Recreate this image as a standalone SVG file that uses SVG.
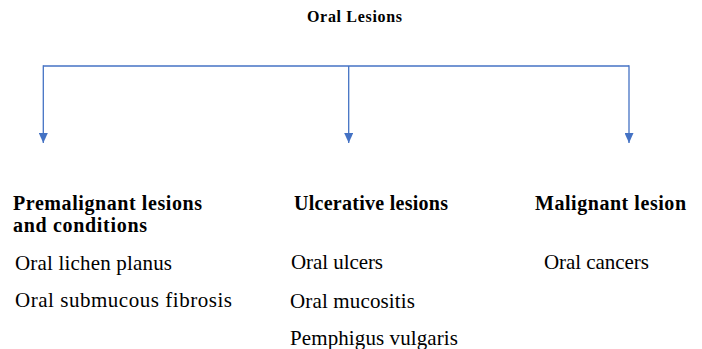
<svg xmlns="http://www.w3.org/2000/svg" width="702" height="349" viewBox="0 0 702 349">
<style>
.t{font-family:"Liberation Serif","Times New Roman",serif;fill:#000}
.b{font-weight:bold;font-size:20px}
.r{font-size:21px}
.c{fill:none;stroke:#4472C4;stroke-width:1.3}
</style>
<defs>
<marker id="ah" markerWidth="10" markerHeight="9" refX="10" refY="4.5" orient="auto" markerUnits="userSpaceOnUse" viewBox="0 0 10 9">
<path d="M0,0 L10,4.5 L0,9 Z" fill="#4472C4"/>
</marker>
</defs>
<rect width="702" height="349" fill="#fff"/>
<g id="title"><text class="t" x="307" y="21.7" font-weight="bold" font-size="16" textLength="95" lengthAdjust="spacing">Oral Lesions</text></g>
<g id="connectors">
<path class="c" d="M43.3,66 H629"/>
<path class="c" d="M43.3,65.3 V143" marker-end="url(#ah)"/>
<path class="c" d="M348.7,66 V143" marker-end="url(#ah)"/>
<path class="c" d="M629,65.3 V143" marker-end="url(#ah)"/>
</g>
<g id="premalignant">
<text class="t b" x="13" y="209.5" textLength="189" lengthAdjust="spacing">Premalignant lesions</text>
<text class="t b" x="13" y="232" textLength="134" lengthAdjust="spacing">and conditions</text>
<text class="t r" x="15" y="270" textLength="157" lengthAdjust="spacing">Oral lichen planus</text>
<text class="t r" x="15" y="307" textLength="217" lengthAdjust="spacing">Oral submucous fibrosis</text>
</g>
<g id="ulcerative">
<text class="t b" x="294" y="209.5" textLength="154" lengthAdjust="spacing">Ulcerative lesions</text>
<text class="t r" x="291" y="269" textLength="92" lengthAdjust="spacing">Oral ulcers</text>
<text class="t r" x="290" y="307.5" textLength="125" lengthAdjust="spacing">Oral mucositis</text>
<text class="t r" x="290" y="345" textLength="168" lengthAdjust="spacing">Pemphigus vulgaris</text>
</g>
<g id="malignant">
<text class="t b" x="535" y="209.5" textLength="151" lengthAdjust="spacing">Malignant lesion</text>
<text class="t r" x="544" y="269" textLength="105" lengthAdjust="spacing">Oral cancers</text>
</g>
</svg>
